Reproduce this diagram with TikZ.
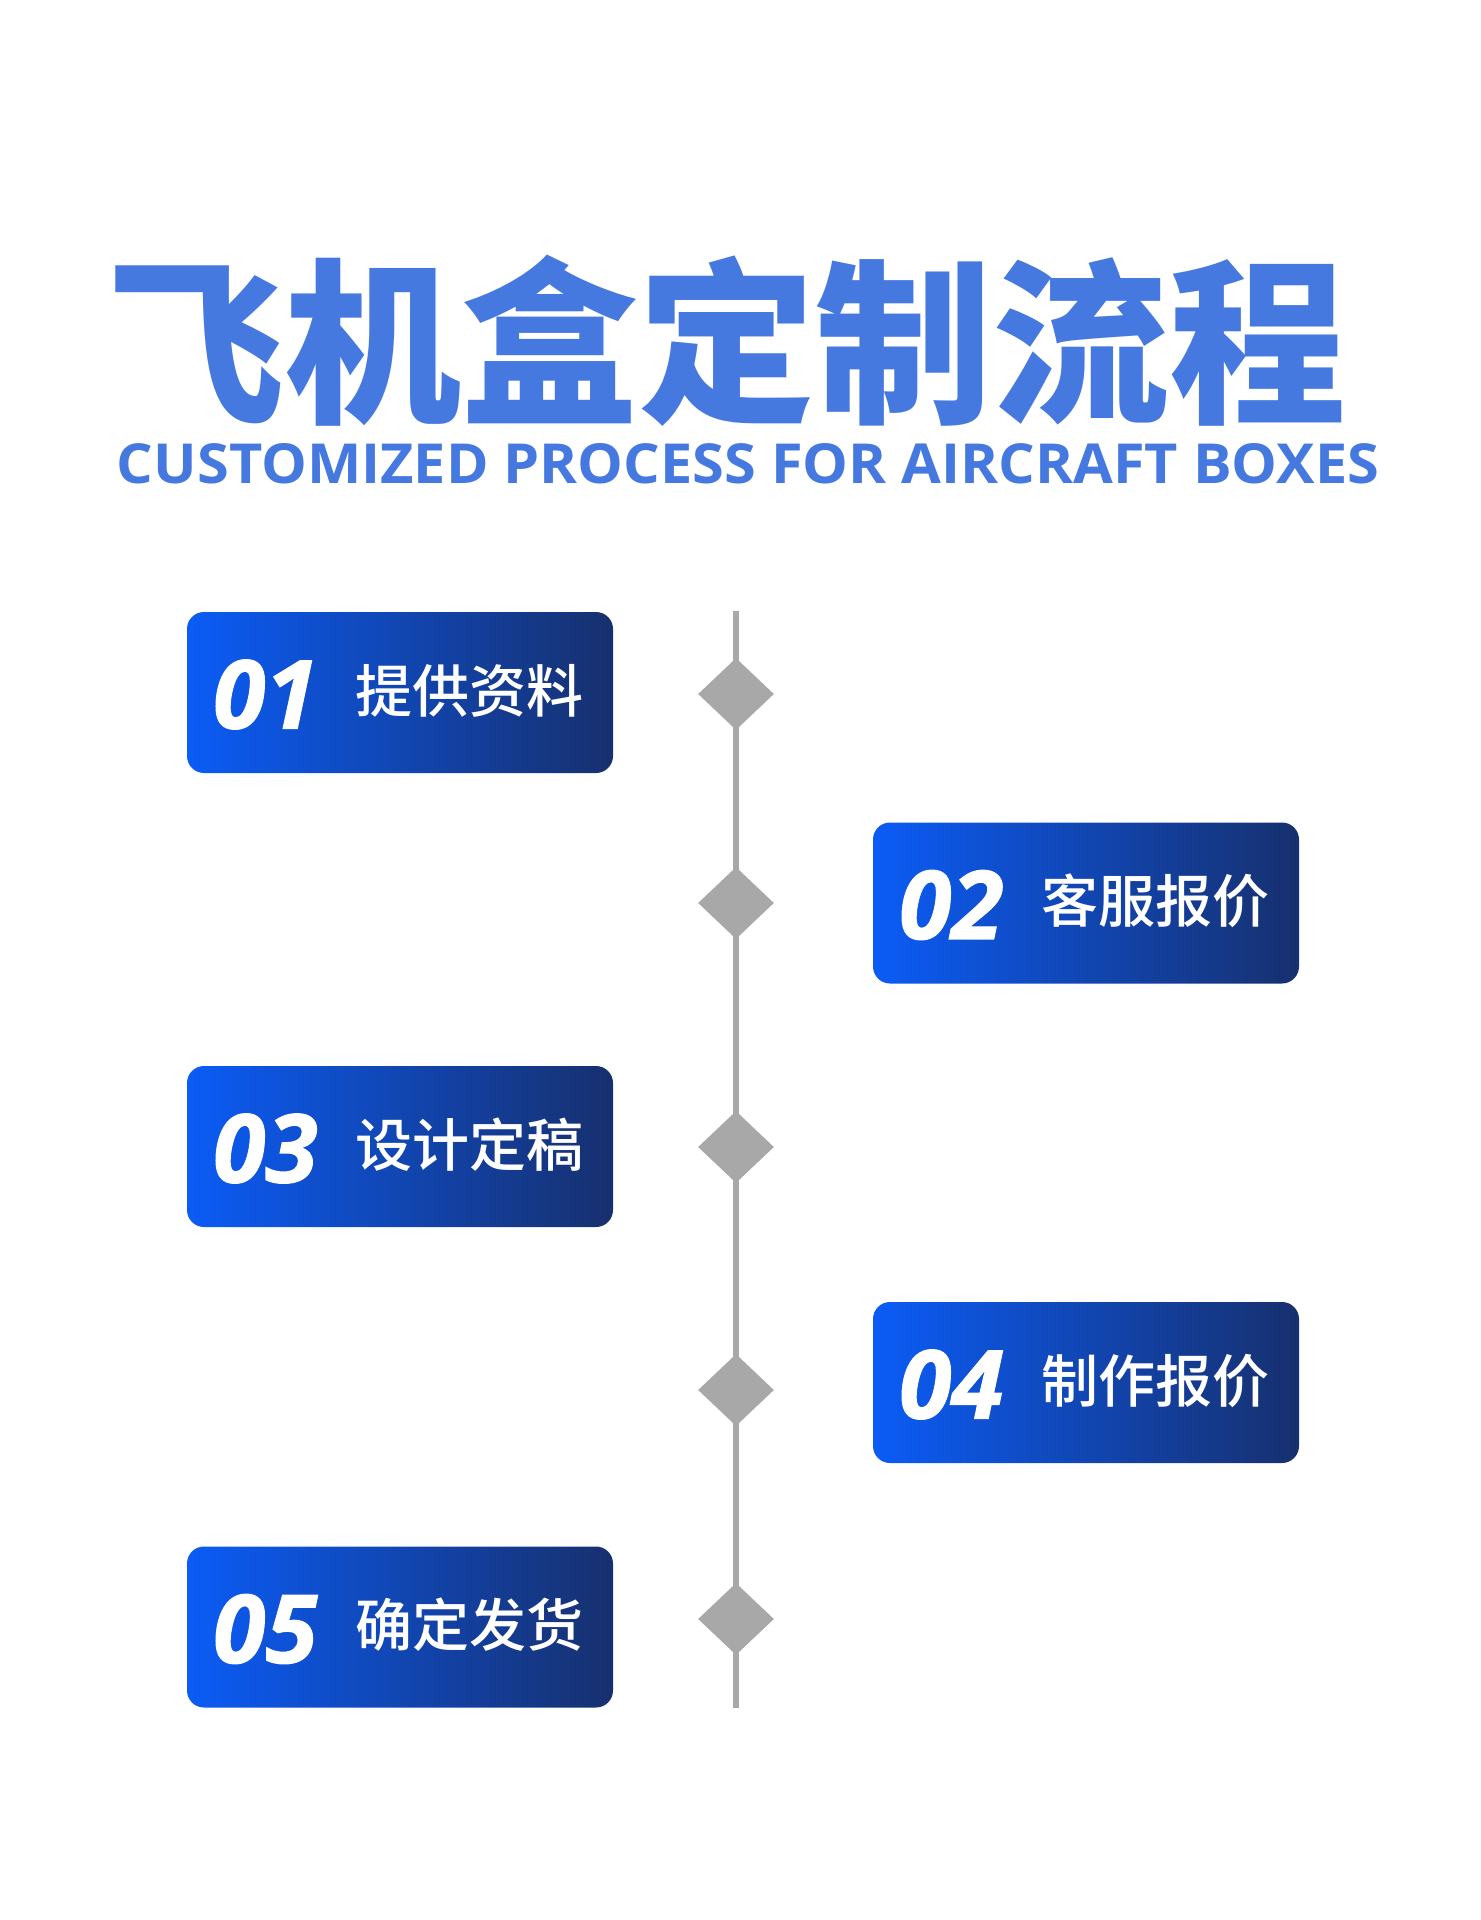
\documentclass[tikz,border=0pt]{standalone}
\usepackage{fontspec}
\newfontfamily\cjkmed{Noto Sans CJK SC Medium}
\newfontfamily\cjkblack{Noto Sans CJK SC Black}
\newfontfamily\latinf{Open Sans}[BoldItalicFeatures={FakeBold=1.2}]
\definecolor{titleblue}{HTML}{4679E0}
\definecolor{gradA}{HTML}{0B5CF6}
\definecolor{gradB}{HTML}{17306E}
\definecolor{linegray}{HTML}{A8A8A8}
\tikzset{
  stepbox/.style={rounded corners=8.5pt, minimum width=213pt, minimum height=80.5pt,
    left color=gradA, right color=gradB, inner sep=0pt},
  numtext/.style={anchor=west, inner sep=0pt, text=white,
    font=\latinf\bfseries\itshape\fontsize{47.5pt}{50pt}\selectfont},
  labtext/.style={anchor=west, inner sep=0pt, text=white,
    font=\cjkmed\fontsize{28.5pt}{30pt}\selectfont},
  marker/.style={diamond, fill=linegray, minimum width=38pt, minimum height=36pt, inner sep=0pt},
}
\usetikzlibrary{shapes.geometric}
\begin{document}
\begin{tikzpicture}[x=0.5pt,y=-0.5pt]
\fill[white] (0,0) rectangle (1480,1920);
\useasboundingbox (0,0) rectangle (1480,1920);
% title
\node[inner sep=0pt, anchor=base, text=titleblue, font=\cjkblack\fontsize{88.5pt}{90pt}\selectfont] (title) at (727,409) {飞机盒定制流程};
\node[inner sep=0pt, anchor=base, text=titleblue, font=\latinf\bfseries] (sub) at (748,483) {\resizebox{631pt}{20pt}{CUSTOMIZED PROCESS FOR AIRCRAFT BOXES}};
% timeline
\coordinate (ltop) at (736,611);
\coordinate (lbot) at (736,1708);
\draw[linegray, line width=3pt] (ltop) -- (lbot);
\node[marker] (d1) at (736,694) {};
\node[marker] (d2) at (736,903) {};
\node[marker] (d3) at (736,1147) {};
\node[marker] (d4) at (736,1390) {};
\node[marker] (d5) at (736,1619) {};
% boxes
\node[stepbox] (b1) at (400,692.5) {};
\node[stepbox] (b2) at (1086,903) {};
\node[stepbox] (b3) at (400,1146.5) {};
\node[stepbox] (b4) at (1086,1382.5) {};
\node[stepbox] (b5) at (400,1627) {};
\foreach \b/\n/\t in {b1/01/提供资料, b2/02/客服报价, b3/03/设计定稿, b4/04/制作报价, b5/05/确定发货}{
  \node[numtext] (\b n) at ([xshift=13pt,yshift=-1pt]\b.west) {\n};
  \node[labtext] (\b t) at ([xshift=84pt,yshift=1pt]\b.west) {\t};
}
\end{tikzpicture}
\end{document}
